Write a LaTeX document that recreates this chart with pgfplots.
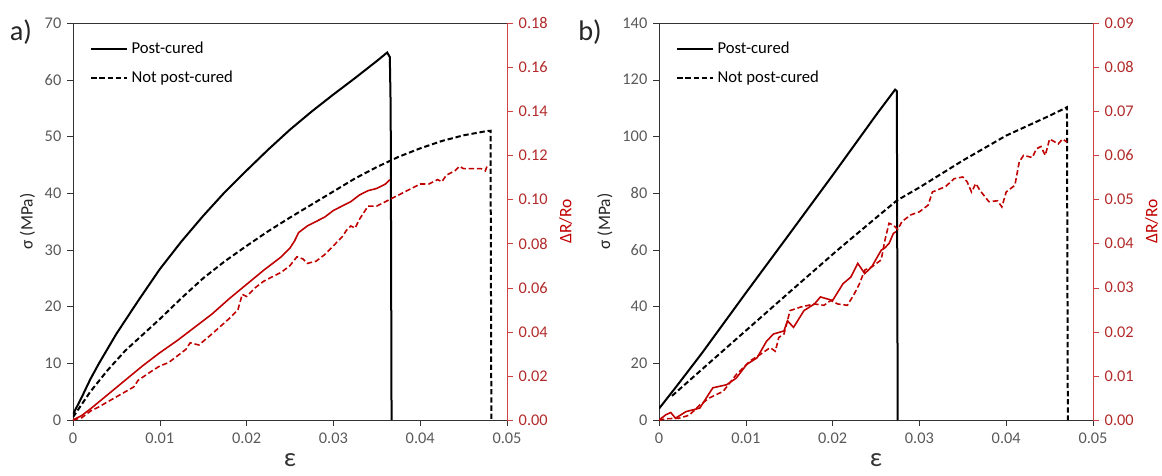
\documentclass[border=0pt]{standalone}
\usepackage{pgfplots}
\pgfplotsset{compat=1.18}
\usepackage{fontspec}
\setmainfont{Carlito}
\definecolor{dred}{HTML}{C00000}
\definecolor{tred}{HTML}{B22A2A}
\definecolor{tgray}{HTML}{595959}
\pgfplotsset{
  base/.style={
    width=260.4pt, height=238.2pt, scale only axis,
    xmin=0, xmax=0.05,
    xtick={0,0.01,0.02,0.03,0.04,0.05},
    xticklabels={0,0.01,0.02,0.03,0.04,0.05},
    scaled x ticks=false, scaled y ticks=false,
    tick align=outside, major tick length=3.5pt,
    /pgf/number format/assume math mode=true,
    ticklabel style={font=\fontsize{9.8}{11}\selectfont},
  },
  leftax/.style={
    base,
    axis line style={black!80},
    tick style={black!80},
    xtick pos=bottom, ytick pos=left,
    yticklabel style={text=tgray},
    xticklabel style={text=tgray, yshift=-1pt},
    xlabel={\fontsize{16}{17}\selectfont ε},
    xlabel style={text=black!80, inner sep=0pt, text depth=0pt, yshift=-2pt},
    ylabel={\fontsize{10.5}{12}\selectfont σ (MPa)},
    ylabel style={text=black!85, yshift=-1pt},
    legend style={at={(0.035,0.965)}, anchor=north west, draw=none, fill=none,
      font=\fontsize{10}{12}\selectfont, row sep=5pt, inner sep=1pt},
    legend cell align=left,
    legend image code/.code={\draw[#1] (0cm,0cm) -- (0.76cm,0cm);},
  },
  rightax/.style={
    base,
    axis y line*=right, axis x line=none,
    axis line style={dred!75},
    tick style={dred!75},
    yticklabel style={text=tred, /pgf/number format/.cd, fixed, fixed zerofill, precision=2},
    ylabel={\fontsize{10.5}{12}\selectfont ΔR/Ro},
    ylabel style={text=dred, yshift=0pt},
  },
  blk/.style={black, line width=1.2pt},
  blkd/.style={black, line width=1.2pt, dash pattern=on 3.2pt off 1.7pt},
  rd/.style={dred, line width=0.95pt},
  rdd/.style={dred, line width=0.95pt, dash pattern=on 3.2pt off 1.7pt},
}
\begin{document}
\begin{tikzpicture}
\path[use as bounding box] (-43.8pt,-33pt) rectangle (653.4pt,252pt);
% ---------- panel a ----------
\begin{axis}[leftax, ymin=0, ymax=70, ytick={0,10,20,30,40,50,60,70}]
\addplot[blk] coordinates {(0,1) (0.001,4) (0.002,7.2) (0.003,10) (0.005,15.2) (0.0075,21) (0.01,26.6) (0.0125,31.5) (0.015,36) (0.0175,40.2) (0.02,44) (0.0225,47.7) (0.025,51.2) (0.0275,54.4) (0.03,57.4) (0.0325,60.3) (0.035,63.3) (0.0362,64.8) (0.0365,64) (0.0366,55) (0.0367,0)};
\addlegendentry{Post-cured}
\addplot[blkd] coordinates {(0,0.5) (0.002,5) (0.004,8.8) (0.006,12.2) (0.008,15) (0.01,17.8) (0.0125,21.5) (0.015,25) (0.0175,28) (0.02,30.7) (0.0225,33.3) (0.025,35.7) (0.0275,38) (0.03,40.3) (0.0325,42.6) (0.035,44.6) (0.0375,46.4) (0.04,47.9) (0.0425,49.2) (0.045,50.2) (0.0475,50.9) (0.0481,51) (0.0482,0)};
\addlegendentry{Not post-cured}
\end{axis}
\begin{axis}[rightax, ymin=0, ymax=0.18, ytick={0,0.02,0.04,0.06,0.08,0.1,0.12,0.14,0.16,0.18}]
\addplot[rd] coordinates {(0,0) (0.001,0.002) (0.002,0.005) (0.004,0.0115) (0.006,0.018) (0.008,0.0245) (0.01,0.0305) (0.012,0.036) (0.014,0.042) (0.016,0.048) (0.018,0.055) (0.02,0.0615) (0.022,0.068) (0.024,0.074) (0.025,0.078) (0.0255,0.081) (0.026,0.085) (0.027,0.088) (0.028,0.090) (0.029,0.092) (0.03,0.095) (0.031,0.097) (0.032,0.099) (0.033,0.102) (0.034,0.104) (0.035,0.105) (0.036,0.107) (0.0365,0.109)};
\addplot[rdd] coordinates {(0,0) (0.001,0.001) (0.002,0.004) (0.003,0.006) (0.005,0.0105) (0.007,0.015) (0.0075,0.018) (0.009,0.022) (0.01,0.0245) (0.011,0.026) (0.012,0.029) (0.013,0.032) (0.0135,0.035) (0.0145,0.034) (0.016,0.039) (0.018,0.046) (0.019,0.050) (0.0195,0.057) (0.02,0.056) (0.021,0.06) (0.022,0.063) (0.024,0.067) (0.025,0.070) (0.0258,0.074) (0.0265,0.073) (0.027,0.071) (0.028,0.072) (0.029,0.075) (0.03,0.079) (0.031,0.083) (0.0315,0.086) (0.032,0.088) (0.0325,0.087) (0.033,0.091) (0.034,0.097) (0.035,0.097) (0.036,0.099) (0.037,0.101) (0.038,0.103) (0.039,0.105) (0.04,0.107) (0.041,0.107) (0.042,0.109) (0.0425,0.108) (0.043,0.111) (0.044,0.113) (0.0445,0.115) (0.045,0.114) (0.047,0.114) (0.0475,0.113) (0.0477,0.115)};
\end{axis}
\node[font=\fontsize{17}{18}\selectfont, text=black!85] at (-31.2pt,232.8pt) {a)};
% ---------- panel b ----------
\begin{scope}[xshift=351.6pt]
\begin{axis}[leftax, ymin=0, ymax=140, ytick={0,20,40,60,80,100,120,140}]
\addplot[blk] coordinates {(0,4) (0.002,11.8) (0.005,23.8) (0.01,44.8) (0.015,65.5) (0.02,86.3) (0.025,107.5) (0.0272,116.5) (0.0274,116) (0.0275,0)};
\addlegendentry{Post-cured}
\addplot[blkd] coordinates {(0.0015,8.5) (0.005,18) (0.01,31.5) (0.015,45) (0.0206,60) (0.025,71.3) (0.0274,77.4) (0.03,82) (0.035,91.5) (0.04,100.3) (0.045,107.3) (0.047,110.3) (0.0471,0)};
\addlegendentry{Not post-cured}
\end{axis}
\begin{axis}[rightax, ymin=0, ymax=0.09, ytick={0,0.01,0.02,0.03,0.04,0.05,0.06,0.07,0.08,0.09}]
\addplot[rd] coordinates {(0,0) (0.0008,0.0012) (0.00136,0.0017) (0.0019,0.0004) (0.0031,0.0019) (0.0047,0.0027) (0.0062,0.0073) (0.0078,0.008) (0.0089,0.0095) (0.0101,0.0126) (0.0113,0.0141) (0.0124,0.0179) (0.0132,0.0195) (0.0144,0.0202) (0.0148,0.0225) (0.0155,0.021) (0.0167,0.0248) (0.0179,0.0263) (0.0186,0.0279) (0.02,0.0271) (0.0212,0.0309) (0.0221,0.0324) (0.0229,0.0355) (0.0237,0.0332) (0.0245,0.0347) (0.0256,0.0385) (0.026,0.039) (0.0265,0.040) (0.027,0.0423) (0.0273,0.0427)};
\addplot[rdd] coordinates {(0,0) (0.001,0.0003) (0.0023,0.0004) (0.0035,0.0011) (0.0047,0.0034) (0.0058,0.005) (0.0074,0.0065) (0.0089,0.0103) (0.0105,0.0134) (0.0117,0.0149) (0.0128,0.0164) (0.0134,0.0156) (0.0138,0.0187) (0.0144,0.0195) (0.0151,0.0248) (0.0163,0.0256) (0.0179,0.0263) (0.019,0.026) (0.0198,0.0271) (0.0206,0.0263) (0.0217,0.026) (0.0225,0.0286) (0.0231,0.0309) (0.0237,0.034) (0.0245,0.0347) (0.0256,0.0363) (0.026,0.0405) (0.0265,0.0446) (0.027,0.0442) (0.0275,0.0432) (0.028,0.045) (0.029,0.0465) (0.03,0.0472) (0.031,0.0487) (0.0315,0.0517) (0.033,0.0529) (0.034,0.0547) (0.035,0.0551) (0.0355,0.054) (0.036,0.0517) (0.0365,0.0536) (0.037,0.052) (0.038,0.0495) (0.039,0.0497) (0.0395,0.0483) (0.040,0.0517) (0.041,0.0532) (0.0415,0.0585) (0.042,0.06) (0.043,0.0595) (0.0435,0.0615) (0.044,0.062) (0.0445,0.060) (0.045,0.0637) (0.046,0.0626) (0.0465,0.0637) (0.047,0.063)};
\end{axis}
\node[font=\fontsize{17}{18}\selectfont, text=black!85] at (-41.4pt,232.8pt) {b)};
\end{scope}
\end{tikzpicture}
\end{document}
